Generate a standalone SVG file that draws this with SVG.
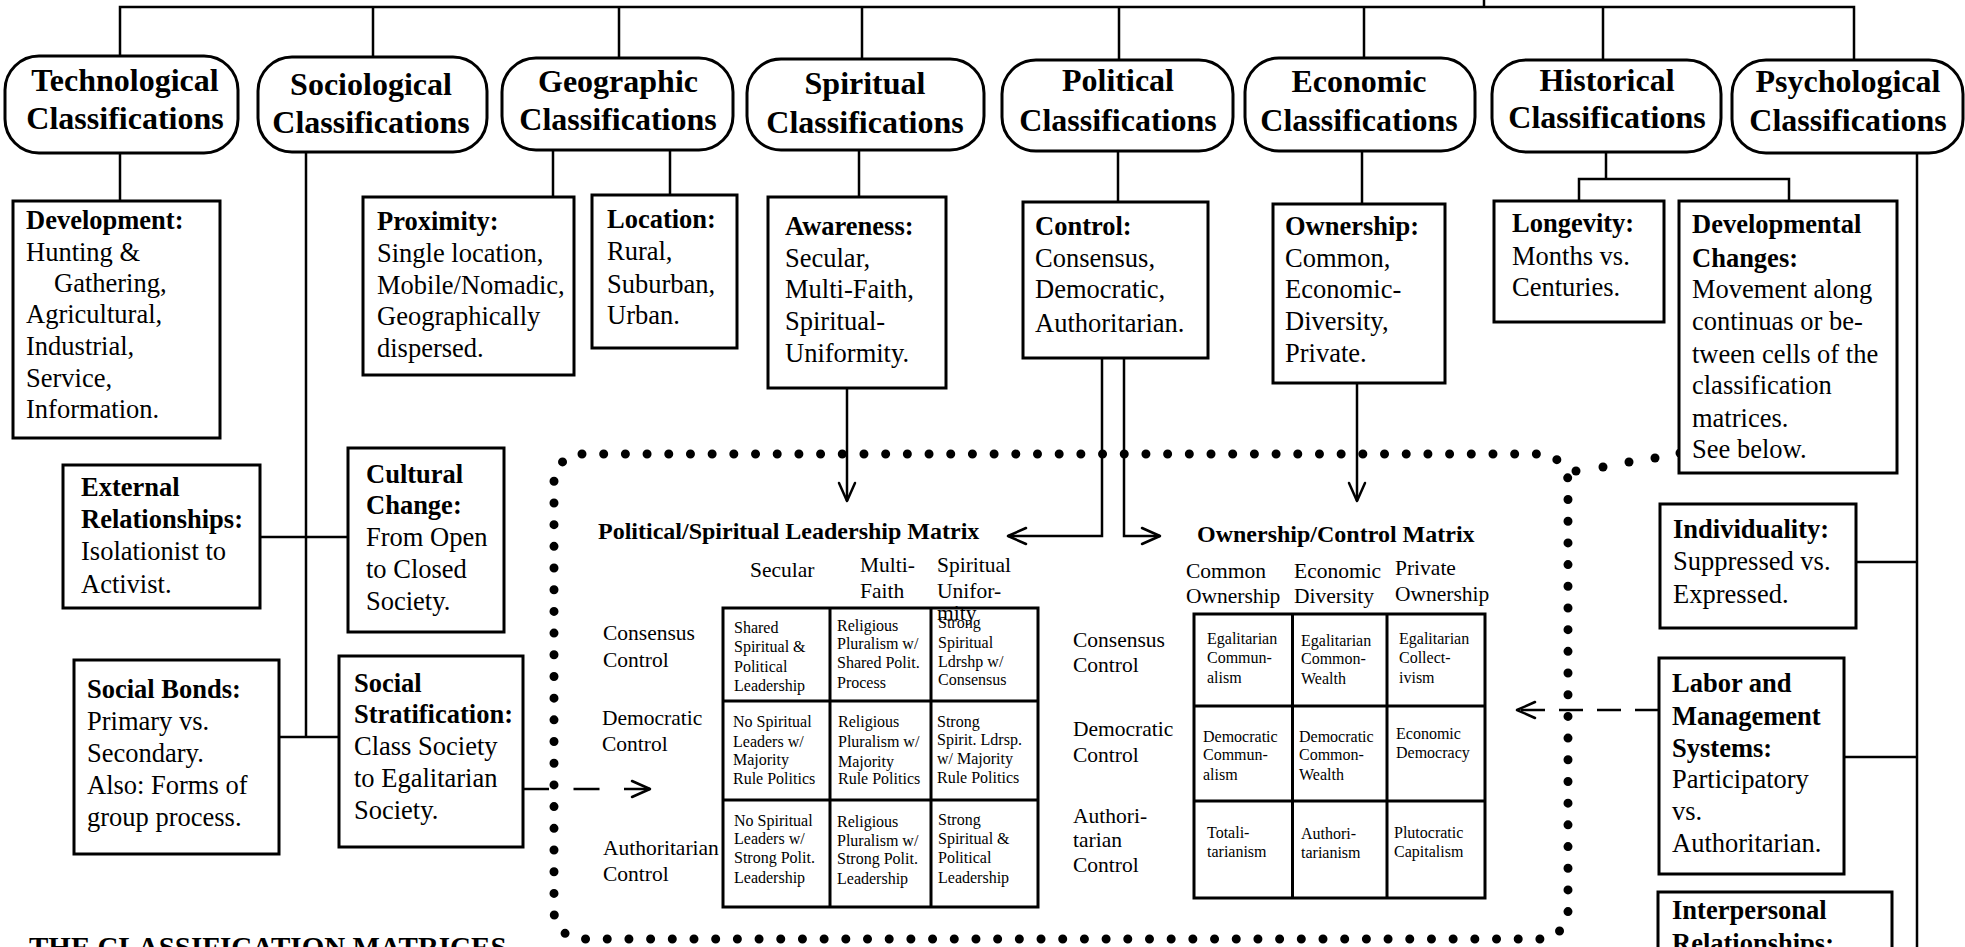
<svg xmlns="http://www.w3.org/2000/svg" width="1965" height="947" viewBox="0 0 1965 947">
<style>
text{font-family:"Liberation Serif","Times New Roman",serif;fill:#000}
.t{font-size:26.5px}
.b{font-weight:bold}
.h{font-size:32px;font-weight:bold;text-anchor:middle}
.m{font-size:21.5px}
.c{font-size:16px}
.mt{font-size:24px;font-weight:bold}
.box{fill:#fff;stroke:#000;stroke-width:3}
.ln{fill:none;stroke:#000;stroke-width:2.5}
.dash1{stroke-dasharray:26 24.5}
.dash2{stroke-dasharray:24 14}
.grid{fill:none;stroke:#000;stroke-width:3}
.dots{fill:none;stroke:#000;stroke-width:9;stroke-linecap:round;stroke-dasharray:0 21.69}
.dot{fill:#000}
</style>
<defs>
<marker id="arr" markerWidth="24" markerHeight="20" refX="18" refY="8" orient="auto" markerUnits="userSpaceOnUse" overflow="visible">
<path d="M0,0 L18,8 L0,16" fill="none" stroke="#000" stroke-width="2.5" stroke-linejoin="round" stroke-linecap="round"/>
</marker>
</defs>
<rect width="1965" height="947" fill="#fff"/>

<g id="connectors">
<path class="ln" d="M1484,0 V7"/>
<path class="ln" d="M120,56 V7 H1854 V60"/>
<path class="ln" d="M373,7 V57 M619,7 V58 M862,7 V59 M1119,7 V60 M1364,7 V58 M1603,7 V60"/>
<path class="ln" d="M120,153 V201"/>
<path class="ln" d="M306,152 V737 M261,537 H348 M279,737 H339"/>
<path class="ln" d="M553,150 V197 M670,150 V195"/>
<path class="ln" d="M859,150 V197"/>
<path class="ln" d="M847,388 V501" marker-end="url(#arr)"/>
<path class="ln" d="M1118,151 V202"/>
<path class="ln" d="M1102,358 V536 H1008" marker-end="url(#arr)"/>
<path class="ln" d="M1124,358 V536 H1160" marker-end="url(#arr)"/>
<path class="ln" d="M1362,151 V204"/>
<path class="ln" d="M1357,383 V501" marker-end="url(#arr)"/>
<path class="ln" d="M1606,152 V179 M1579,201 V179 H1789 V201"/>
<path class="ln" d="M1917,153 V947 M1856,562 H1917 M1844,757 H1917"/>
<path class="ln dash1" d="M523,789 H650" marker-end="url(#arr)"/>
<path class="ln dash2" d="M1659,710 H1517" marker-end="url(#arr)"/>
<rect class="dots" x="554" y="454" width="1014" height="485" rx="28"/>
<g class="dot">
<circle cx="1576" cy="471" r="4.5"/>
<circle cx="1603" cy="467" r="4.5"/>
<circle cx="1629" cy="462" r="4.5"/>
<circle cx="1655" cy="458" r="4.5"/>
<circle cx="1680" cy="453" r="4.5"/>
</g>
</g>

<g id="technological">
<rect class="box" x="5" y="56" width="233" height="97" rx="34"/>
<text class="h" x="125" y="91">Technological</text>
<text class="h" x="125" y="129">Classifications</text>
</g>
<g id="sociological">
<rect class="box" x="258" y="57" width="229" height="95" rx="34"/>
<text class="h" x="371" y="95">Sociological</text>
<text class="h" x="371" y="133">Classifications</text>
</g>
<g id="geographic">
<rect class="box" x="502" y="58" width="231" height="92" rx="34"/>
<text class="h" x="618" y="92">Geographic</text>
<text class="h" x="618" y="130">Classifications</text>
</g>
<g id="spiritual">
<rect class="box" x="747" y="59" width="237" height="91" rx="34"/>
<text class="h" x="865" y="94">Spiritual</text>
<text class="h" x="865" y="133">Classifications</text>
</g>
<g id="political">
<rect class="box" x="1002" y="60" width="231" height="91" rx="34"/>
<text class="h" x="1118" y="91">Political</text>
<text class="h" x="1118" y="131">Classifications</text>
</g>
<g id="economic">
<rect class="box" x="1245" y="58" width="230" height="93" rx="34"/>
<text class="h" x="1359" y="92">Economic</text>
<text class="h" x="1359" y="131">Classifications</text>
</g>
<g id="historical">
<rect class="box" x="1492" y="60" width="229" height="92" rx="34"/>
<text class="h" x="1607" y="91">Historical</text>
<text class="h" x="1607" y="128">Classifications</text>
</g>
<g id="psychological">
<rect class="box" x="1732" y="60" width="231" height="93" rx="34"/>
<text class="h" x="1848" y="92">Psychological</text>
<text class="h" x="1848" y="131">Classifications</text>
</g>

<g id="development">
<rect class="box" x="13" y="201" width="207" height="237"/>
<text class="t"><tspan class="b" x="26" y="229">Development:</tspan><tspan x="26" y="261">Hunting &amp;</tspan><tspan x="54" y="292">Gathering,</tspan><tspan x="26" y="323">Agricultural,</tspan><tspan x="26" y="355">Industrial,</tspan><tspan x="26" y="387">Service,</tspan><tspan x="26" y="418">Information.</tspan></text>
</g>
<g id="proximity">
<rect class="box" x="363" y="197" width="211" height="178"/>
<text class="t"><tspan class="b" x="377" y="230">Proximity:</tspan><tspan x="377" y="262">Single location,</tspan><tspan x="377" y="294">Mobile/Nomadic,</tspan><tspan x="377" y="325">Geographically</tspan><tspan x="377" y="357">dispersed.</tspan></text>
</g>
<g id="location">
<rect class="box" x="592" y="195" width="145" height="153"/>
<text class="t"><tspan class="b" x="607" y="228">Location:</tspan><tspan x="607" y="260">Rural,</tspan><tspan x="607" y="293">Suburban,</tspan><tspan x="607" y="324">Urban.</tspan></text>
</g>
<g id="awareness">
<rect class="box" x="768" y="197" width="178" height="191"/>
<text class="t"><tspan class="b" x="785" y="235">Awareness:</tspan><tspan x="785" y="267">Secular,</tspan><tspan x="785" y="298">Multi-Faith,</tspan><tspan x="785" y="330">Spiritual-</tspan><tspan x="785" y="362">Uniformity.</tspan></text>
</g>
<g id="control">
<rect class="box" x="1023" y="202" width="185" height="156"/>
<text class="t"><tspan class="b" x="1035" y="235">Control:</tspan><tspan x="1035" y="267">Consensus,</tspan><tspan x="1035" y="298">Democratic,</tspan><tspan x="1035" y="332">Authoritarian.</tspan></text>
</g>
<g id="ownership">
<rect class="box" x="1273" y="204" width="172" height="179"/>
<text class="t"><tspan class="b" x="1285" y="235">Ownership:</tspan><tspan x="1285" y="267">Common,</tspan><tspan x="1285" y="298">Economic-</tspan><tspan x="1285" y="330">Diversity,</tspan><tspan x="1285" y="362">Private.</tspan></text>
</g>
<g id="longevity">
<rect class="box" x="1494" y="201" width="170" height="121"/>
<text class="t"><tspan class="b" x="1512" y="232">Longevity:</tspan><tspan x="1512" y="265">Months vs.</tspan><tspan x="1512" y="296">Centuries.</tspan></text>
</g>
<g id="developmental">
<rect class="box" x="1679" y="201" width="218" height="272"/>
<text class="t"><tspan class="b" x="1692" y="233">Developmental</tspan><tspan class="b" x="1692" y="267">Changes:</tspan><tspan x="1692" y="298">Movement along</tspan><tspan x="1692" y="330">continuas or be-</tspan><tspan x="1692" y="363">tween cells of the</tspan><tspan x="1692" y="394">classification</tspan><tspan x="1692" y="427">matrices.</tspan><tspan x="1692" y="458">See below.</tspan></text>
</g>
<g id="external">
<rect class="box" x="63" y="465" width="197" height="143"/>
<text class="t"><tspan class="b" x="81" y="496">External</tspan><tspan class="b" x="81" y="528">Relationships:</tspan><tspan x="81" y="560">Isolationist to</tspan><tspan x="81" y="593">Activist.</tspan></text>
</g>
<g id="cultural">
<rect class="box" x="348" y="448" width="156" height="184"/>
<text class="t"><tspan class="b" x="366" y="483">Cultural</tspan><tspan class="b" x="366" y="514">Change:</tspan><tspan x="366" y="546">From Open</tspan><tspan x="366" y="578">to Closed</tspan><tspan x="366" y="610">Society.</tspan></text>
</g>
<g id="socialbonds">
<rect class="box" x="74" y="660" width="205" height="194"/>
<text class="t"><tspan class="b" x="87" y="698">Social Bonds:</tspan><tspan x="87" y="730">Primary vs.</tspan><tspan x="87" y="762">Secondary.</tspan><tspan x="87" y="794">Also: Forms of</tspan><tspan x="87" y="826">group process.</tspan></text>
</g>
<g id="stratification">
<rect class="box" x="339" y="656" width="184" height="191"/>
<text class="t"><tspan class="b" x="354" y="692">Social</tspan><tspan class="b" x="354" y="723">Stratification:</tspan><tspan x="354" y="755">Class Society</tspan><tspan x="354" y="787">to Egalitarian</tspan><tspan x="354" y="819">Society.</tspan></text>
</g>
<g id="individuality">
<rect class="box" x="1660" y="504" width="196" height="124"/>
<text class="t"><tspan class="b" x="1673" y="538">Individuality:</tspan><tspan x="1673" y="570">Suppressed vs.</tspan><tspan x="1673" y="603">Expressed.</tspan></text>
</g>
<g id="labor">
<rect class="box" x="1659" y="658" width="185" height="216"/>
<text class="t"><tspan class="b" x="1672" y="692">Labor and</tspan><tspan class="b" x="1672" y="725">Management</tspan><tspan class="b" x="1672" y="757">Systems:</tspan><tspan x="1672" y="788">Participatory</tspan><tspan x="1672" y="820">vs.</tspan><tspan x="1672" y="852">Authoritarian.</tspan></text>
</g>
<g id="interpersonal">
<rect class="box" x="1658" y="892" width="234" height="80"/>
<text class="t"><tspan class="b" x="1672" y="919">Interpersonal</tspan><tspan class="b" x="1672" y="952">Relationships:</tspan></text>
</g>

<g id="matrix-political-spiritual">
<text class="mt" x="598" y="539">Political/Spiritual Leadership Matrix</text>
<text class="m"><tspan x="750" y="577">Secular</tspan></text>
<text class="m"><tspan x="860" y="572">Multi-</tspan><tspan x="860" y="598">Faith</tspan></text>
<text class="m"><tspan x="937" y="572">Spiritual</tspan><tspan x="937" y="598">Unifor-</tspan><tspan x="937" y="620">mity</tspan></text>
<text class="m"><tspan x="603" y="640">Consensus</tspan><tspan x="603" y="667">Control</tspan></text>
<text class="m"><tspan x="602" y="725">Democratic</tspan><tspan x="602" y="751">Control</tspan></text>
<text class="m"><tspan x="603" y="855">Authoritarian</tspan><tspan x="603" y="881">Control</tspan></text>
<path class="grid" d="M723,608 H1038 V907 H723 Z M830,608 V907 M931,608 V907 M723,701 H1038 M723,800 H1038"/>
<text class="c"><tspan x="734" y="633">Shared</tspan><tspan x="734" y="652">Spiritual &amp;</tspan><tspan x="734" y="672">Political</tspan><tspan x="734" y="691">Leadership</tspan></text>
<text class="c"><tspan x="837" y="631">Religious</tspan><tspan x="837" y="649">Pluralism w/</tspan><tspan x="837" y="668">Shared Polit.</tspan><tspan x="837" y="688">Process</tspan></text>
<text class="c"><tspan x="938" y="628">Strong</tspan><tspan x="938" y="648">Spiritual</tspan><tspan x="938" y="667">Ldrshp w/</tspan><tspan x="938" y="685">Consensus</tspan></text>
<text class="c"><tspan x="733" y="727">No Spiritual</tspan><tspan x="733" y="747">Leaders w/</tspan><tspan x="733" y="765">Majority</tspan><tspan x="733" y="784">Rule Politics</tspan></text>
<text class="c"><tspan x="838" y="727">Religious</tspan><tspan x="838" y="747">Pluralism w/</tspan><tspan x="838" y="767">Majority</tspan><tspan x="838" y="784">Rule Politics</tspan></text>
<text class="c"><tspan x="937" y="727">Strong</tspan><tspan x="937" y="745">Spirit. Ldrsp.</tspan><tspan x="937" y="764">w/ Majority</tspan><tspan x="937" y="783">Rule Politics</tspan></text>
<text class="c"><tspan x="734" y="826">No Spiritual</tspan><tspan x="734" y="844">Leaders w/</tspan><tspan x="734" y="863">Strong Polit.</tspan><tspan x="734" y="883">Leadership</tspan></text>
<text class="c"><tspan x="837" y="827">Religious</tspan><tspan x="837" y="846">Pluralism w/</tspan><tspan x="837" y="864">Strong Polit.</tspan><tspan x="837" y="884">Leadership</tspan></text>
<text class="c"><tspan x="938" y="825">Strong</tspan><tspan x="938" y="844">Spiritual &amp;</tspan><tspan x="938" y="863">Political</tspan><tspan x="938" y="883">Leadership</tspan></text>
</g>

<g id="matrix-ownership-control">
<text class="mt" x="1197" y="542">Ownership/Control Matrix</text>
<text class="m"><tspan x="1186" y="578">Common</tspan><tspan x="1186" y="603">Ownership</tspan></text>
<text class="m"><tspan x="1294" y="578">Economic</tspan><tspan x="1294" y="603">Diversity</tspan></text>
<text class="m"><tspan x="1395" y="575">Private</tspan><tspan x="1395" y="601">Ownership</tspan></text>
<text class="m"><tspan x="1073" y="647">Consensus</tspan><tspan x="1073" y="672">Control</tspan></text>
<text class="m"><tspan x="1073" y="736">Democratic</tspan><tspan x="1073" y="762">Control</tspan></text>
<text class="m"><tspan x="1073" y="823">Authori-</tspan><tspan x="1073" y="847">tarian</tspan><tspan x="1073" y="872">Control</tspan></text>
<path class="grid" d="M1194,614 H1485 V898 H1194 Z M1292.5,614 V898 M1387,614 V898 M1194,706 H1485 M1194,801 H1485"/>
<text class="c"><tspan x="1207" y="644">Egalitarian</tspan><tspan x="1207" y="663">Commun-</tspan><tspan x="1207" y="683">alism</tspan></text>
<text class="c"><tspan x="1301" y="646">Egalitarian</tspan><tspan x="1301" y="664">Common-</tspan><tspan x="1301" y="684">Wealth</tspan></text>
<text class="c"><tspan x="1399" y="644">Egalitarian</tspan><tspan x="1399" y="663">Collect-</tspan><tspan x="1399" y="683">ivism</tspan></text>
<text class="c"><tspan x="1203" y="742">Democratic</tspan><tspan x="1203" y="760">Commun-</tspan><tspan x="1203" y="780">alism</tspan></text>
<text class="c"><tspan x="1299" y="742">Democratic</tspan><tspan x="1299" y="760">Common-</tspan><tspan x="1299" y="780">Wealth</tspan></text>
<text class="c"><tspan x="1396" y="739">Economic</tspan><tspan x="1396" y="758">Democracy</tspan></text>
<text class="c"><tspan x="1207" y="838">Totali-</tspan><tspan x="1207" y="857">tarianism</tspan></text>
<text class="c"><tspan x="1301" y="839">Authori-</tspan><tspan x="1301" y="858">tarianism</tspan></text>
<text class="c"><tspan x="1394" y="838">Plutocratic</tspan><tspan x="1394" y="857">Capitalism</tspan></text>
</g>

<g id="title">
<text class="b" x="29" y="957" font-size="29">THE CLASSIFICATION MATRICES</text>
</g>
</svg>
